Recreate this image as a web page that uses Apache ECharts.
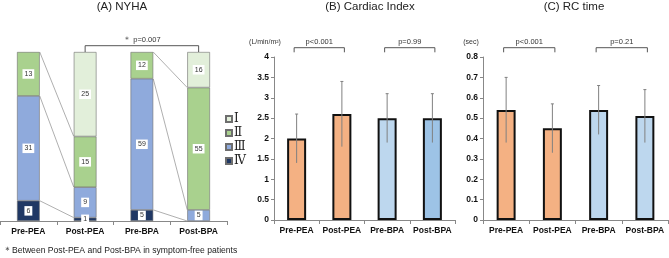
<!DOCTYPE html>
<html><head><meta charset="utf-8">
<script src="https://cdn.jsdelivr.net/npm/echarts@6/dist/echarts.min.js"></script>
<style>html,body{margin:0;padding:0;background:#fff}#c{width:669px;height:258px}</style>
</head><body><div id="c"></div>
<script>
// ---- data ----
const categories = ['Pre-PEA', 'Post-PEA', 'Pre-BPA', 'Post-BPA'];
const nyhaNames = ['Ⅰ', 'Ⅱ', 'Ⅲ', 'Ⅳ'];
const nyhaI   = [0, 25, 0, 16];
const nyhaII  = [13, 15, 12, 55];
const nyhaIII = [31, 9, 59, 5];
const nyhaIV  = [6, 1, 5, 0];
const nyhaPairs = [[0, 1], [2, 3]];
const nyhaBrackets = [[1, 3, '＊ p=0.007']];

const ciMean = [2.0, 2.6, 2.5, 2.5];
const ciLow  = [1.4, 1.8, 1.9, 1.9];
const ciHigh = [2.6, 3.4, 3.1, 3.1];
const ciBrackets = [[0, 1, 'p<0.001'], [2, 3, 'p=0.99']];

const rcMean = [0.54, 0.45, 0.54, 0.51];
const rcLow  = [0.38, 0.33, 0.42, 0.38];
const rcHigh = [0.70, 0.57, 0.66, 0.64];
const rcBrackets = [[0, 1, 'p<0.001'], [2, 3, 'p=0.21']];

const ciTickLabels = ['0', '0.5', '1', '1.5', '2', '2.5', '3', '3.5', '4'];
const rcTickLabels = ['0', '0.1', '0.2', '0.3', '0.4', '0.5', '0.6', '0.7', '0.8'];

// ---- helpers ----
const FONT = '"Liberation Sans", Arial, sans-serif';
const totals = categories.map((_, i) => nyhaI[i] + nyhaII[i] + nyhaIII[i] + nyhaIV[i]);
const pct = (arr, i) => arr[i] / totals[i] * 100;
const nyhaColors = ['#e2efda', '#a9d18e', '#8faadc', '#203864'];

function stackSeries(name, arr, color) {
  return {
    name, type: 'bar', stack: 'nyha', xAxisIndex: 0, yAxisIndex: 0, barWidth: '40%',
    itemStyle: { color, borderColor: '#6e6e6e', borderWidth: 0.6 },
    data: arr.map((v, i) => v === 0 ? '-' : pct(arr, i)),
    label: {
      show: true, position: 'inside', formatter: p => String(arr[p.dataIndex]),
      backgroundColor: '#fff', padding: [1.5, 2, 1, 2], fontSize: 7, color: '#333', fontFamily: FONT
    }
  };
}

// connectors between stacks
const connData = [];
nyhaPairs.forEach(([a, b]) => {
  const cum = (i, k) => [nyhaIV, nyhaIII, nyhaII].slice(0, k + 1).reduce((s, arr) => s + pct(arr, i), 0);
  for (let k = 0; k < 3; k++) connData.push([a, cum(a, k), b, cum(b, k)]);
});

function bracketSeries(xi, yi, list, yMax, lineOff, tickOff, textOff, widen) {
  return {
    type: 'custom', xAxisIndex: xi, yAxisIndex: yi, clip: false, z: 10, silent: true,
    data: list.map(b => [b[0], b[1]]),
    encode: { x: [0, 1] },
    renderItem(params, api) {
      const p1 = api.coord([api.value(0), yMax]);
      const p2 = api.coord([api.value(1), yMax]);
      const x1 = p1[0] - widen, x2 = p2[0] + widen, top = p1[1];
      const yl = top - lineOff, yt = top - tickOff;
      return {
        type: 'group', children: [
          { type: 'polyline', shape: { points: [[x1, yt], [x1, yl], [x2, yl], [x2, yt]] },
            style: { stroke: '#444', lineWidth: 0.9, fill: null } },
          { type: 'text', style: { text: list[params.dataIndex][2], x: (x1 + x2) / 2, y: top - textOff,
            align: 'center', verticalAlign: 'middle', fontSize: 7.5, fill: '#333', fontFamily: FONT } }
        ]
      };
    }
  };
}

function errSeries(xi, yi, lows, highs) {
  return {
    type: 'custom', xAxisIndex: xi, yAxisIndex: yi, z: 10, silent: true,
    data: lows.map((l, i) => [i, l, highs[i]]),
    encode: { x: 0, y: [1, 2] },
    renderItem(params, api) {
      const x = api.value(0);
      const lo = api.coord([x, api.value(1)]);
      const hi = api.coord([x, api.value(2)]);
      const st = { stroke: '#808080', lineWidth: 1 };
      return {
        type: 'group', children: [
          { type: 'line', shape: { x1: lo[0], y1: lo[1], x2: hi[0], y2: hi[1] }, style: st },
          { type: 'line', shape: { x1: hi[0] - 1.5, y1: hi[1], x2: hi[0] + 1.5, y2: hi[1] }, style: st }
        ]
      };
    }
  };
}

const catAxis = (gi) => ({
  type: 'category', gridIndex: gi, data: categories,
  axisLine: { lineStyle: { color: '#888', width: 1 } },
  axisTick: { show: true, length: 4, lineStyle: { color: '#888' } },
  axisLabel: { interval: 0, fontWeight: 'bold', fontSize: 8.5, color: '#111', margin: 6, fontFamily: FONT }
});
const valAxis = (gi, max, interval, labels) => ({
  type: 'value', gridIndex: gi, min: 0, max, interval,
  axisLine: { show: true, lineStyle: { color: '#888' } },
  axisTick: { show: true, length: 3, lineStyle: { color: '#888' } },
  splitLine: { show: false },
  axisLabel: { fontWeight: 'bold', fontSize: 8.5, color: '#111', margin: 5, fontFamily: FONT,
    formatter: v => labels[Math.round(v / interval)] }
});

const option = {
  animation: false,
  textStyle: { fontFamily: FONT },
  grid: [
    { left: 0, top: 52, width: 227, height: 169 },
    { left: 274, top: 57, width: 181, height: 163 },
    { left: 483, top: 57, width: 185, height: 163 }
  ],
  xAxis: [catAxis(0), catAxis(1), catAxis(2)],
  yAxis: [
    { type: 'value', gridIndex: 0, min: 0, max: 100, show: false, splitLine: { show: false } },
    valAxis(1, 4, 0.5, ciTickLabels),
    valAxis(2, 0.8, 0.1, rcTickLabels)
  ],
  legend: {
    data: nyhaNames, orient: 'vertical', left: 220, top: 108, itemWidth: 6, itemHeight: 6, itemGap: 2,
    icon: 'rect',
    textStyle: { fontFamily: '"DejaVu Serif", "Liberation Serif", serif', fontSize: 12, color: '#222', padding: [0, 0, 0, -3] }
  },
  graphic: [
    { type: 'text', x: 122, y: 7, style: { text: '(A) NYHA', fontSize: 11.5, fill: '#222', align: 'center', verticalAlign: 'middle', fontFamily: FONT } },
    { type: 'text', x: 370, y: 7, style: { text: '(B) Cardiac Index', fontSize: 11.5, fill: '#222', align: 'center', verticalAlign: 'middle', fontFamily: FONT } },
    { type: 'text', x: 574, y: 7, style: { text: '(C) RC time', fontSize: 11.5, fill: '#222', align: 'center', verticalAlign: 'middle', fontFamily: FONT } },
    { type: 'text', x: 265, y: 42, style: { text: '(L/min/m²)', fontSize: 7, fill: '#333', align: 'center', verticalAlign: 'middle', fontFamily: FONT } },
    { type: 'text', x: 471, y: 42, style: { text: '(sec)', fontSize: 7, fill: '#333', align: 'center', verticalAlign: 'middle', fontFamily: FONT } },
    { type: 'text', x: 3, y: 251, style: { text: '＊Between Post-PEA and Post-BPA in symptom-free patients', fontSize: 8.6, fill: '#222', align: 'left', verticalAlign: 'middle', fontFamily: FONT } }
  ],
  series: [
    stackSeries(nyhaNames[3], nyhaIV, nyhaColors[3]),
    stackSeries(nyhaNames[2], nyhaIII, nyhaColors[2]),
    stackSeries(nyhaNames[1], nyhaII, nyhaColors[1]),
    stackSeries(nyhaNames[0], nyhaI, nyhaColors[0]),
    {
      type: 'custom', xAxisIndex: 0, yAxisIndex: 0, silent: true, z: 1,
      data: connData, encode: { x: [0, 2], y: [1, 3] },
      renderItem(params, api) {
        const p1 = api.coord([api.value(0), api.value(1)]);
        const p2 = api.coord([api.value(2), api.value(3)]);
        const hw = api.size([1, 0])[0] * 0.4 / 2;
        return { type: 'line', shape: { x1: p1[0] + hw, y1: p1[1], x2: p2[0] - hw, y2: p2[1] },
          style: { stroke: '#9a9a9a', lineWidth: 0.8 } };
      }
    },
    bracketSeries(0, 0, nyhaBrackets, 100, 6.3, 0, 12, 0),
    {
      type: 'bar', xAxisIndex: 1, yAxisIndex: 1, barWidth: '42%',
      data: ciMean.map((v, i) => ({ value: v, itemStyle: { color: ['#f4b183', '#f4b183', '#bdd7ee', '#9dc3e6'][i] } })),
      itemStyle: { borderColor: '#111', borderWidth: 2 }
    },
    errSeries(1, 1, ciLow, ciHigh),
    bracketSeries(1, 1, ciBrackets, 4, 9.3, 4.7, 15, 2.5),
    {
      type: 'bar', xAxisIndex: 2, yAxisIndex: 2, barWidth: '41%',
      data: rcMean.map((v, i) => ({ value: v, itemStyle: { color: ['#f4b183', '#f4b183', '#bdd7ee', '#bdd7ee'][i] } })),
      itemStyle: { borderColor: '#111', borderWidth: 2 }
    },
    errSeries(2, 2, rcLow, rcHigh),
    bracketSeries(2, 2, rcBrackets, 0.8, 9.3, 4.7, 15, 2.5)
  ]
};
const chart = echarts.init(document.getElementById('c'), null, { renderer: 'canvas' });
chart.setOption(option);
</script></body></html>
